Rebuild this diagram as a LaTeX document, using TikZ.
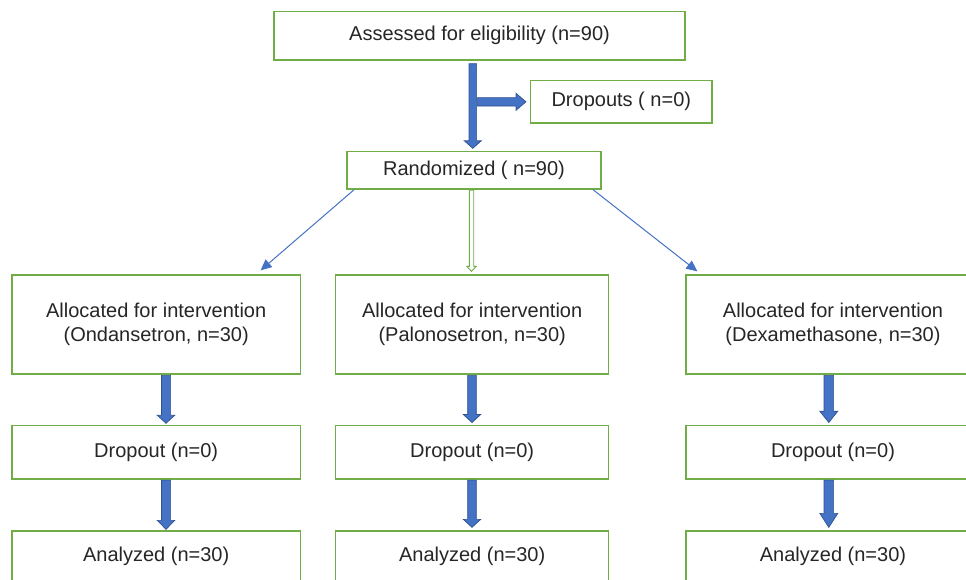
\documentclass[tikz,border=0pt]{standalone}
\usepackage{fontspec}
\setmainfont{Liberation Sans}
\usetikzlibrary{calc,arrows.meta}
\definecolor{boxgreen}{HTML}{70AD47}
\definecolor{arrblue}{HTML}{4472C4}
\definecolor{arredge}{HTML}{2F528F}
\definecolor{txt}{HTML}{262626}
\tikzset{
  box/.style={draw=boxgreen, line width=1.3pt, fill=white, inner sep=0pt,
    align=center, text=txt, font=\fontsize{20pt}{24pt}\selectfont},
  blockarrow/.style={fill=arrblue, draw=arredge, line width=0.7pt, line join=miter},
  hollowarrow/.style={fill=white, draw=boxgreen, line width=0.9pt, line join=miter},
  thinarrow/.style={draw=arrblue, line width=1pt, -{Triangle[length=11pt,width=10pt]}}
}
% #1 style, #2 start, #3 tip, #4 shaft half width, #5 head half width, #6 head length
\newcommand\blockarr[6][blockarrow]{%
  \coordinate (ba-h) at ($(#3)!#6!(#2)$);
  \filldraw[#1] ($(#2)!#4!90:(#3)$) -- ($(ba-h)!#4!90:(#3)$) -- ($(ba-h)!#5!90:(#3)$)
    -- (#3) -- ($(ba-h)!#5!-90:(#3)$) -- ($(ba-h)!#4!-90:(#3)$) -- ($(#2)!#4!-90:(#3)$) -- cycle;}
\begin{document}
\begin{tikzpicture}[x=1pt,y=-1pt]
\useasboundingbox (0,0) rectangle (966,579);
\clip (0,0) rectangle (966,579);

% nodes
\node[box, minimum width=411pt, minimum height=48.5pt] (assess) at (479.5,35.75) {Assessed for eligibility (n=90)};
\node[box, minimum width=181.3pt, minimum height=42.3pt] (drop0) at (621.3,101.8) {Dropouts ( n=0)};
\node[box, minimum width=254pt, minimum height=37.3pt] (rand) at (474,170.3) {Randomized ( n=90)};

\node[box, minimum width=288.5pt, minimum height=99pt] (alloc1) at (156.2,324.5) {Allocated for intervention\\(Ondansetron, n=30)};
\node[box, minimum width=273pt, minimum height=99pt] (alloc2) at (472.2,324.5) {Allocated for intervention\\(Palonosetron, n=30)};
\node[box, minimum width=294pt, minimum height=99pt] (alloc3) at (833,324.5) {Allocated for intervention\\(Dexamethasone, n=30)};

\node[box, minimum width=288.5pt, minimum height=53.3pt] (drop1) at (156.2,452.3) {Dropout (n=0)};
\node[box, minimum width=273pt, minimum height=53.3pt] (drop2) at (472.2,452.3) {Dropout (n=0)};
\node[box, minimum width=294pt, minimum height=53.3pt] (drop3) at (833,452.3) {Dropout (n=0)};

\node[box, minimum width=288.5pt, minimum height=51pt] (anal1) at (156.2,556.5) {Analyzed (n=30)};
\node[box, minimum width=273pt, minimum height=51pt] (anal2) at (472.2,556.5) {Analyzed (n=30)};
\node[box, minimum width=294pt, minimum height=51pt] (anal3) at (833,556.5) {Analyzed (n=30)};

% top block arrows
\coordinate (a0s) at ([xshift=-6.7pt,yshift=-3pt]assess.south);
\coordinate (a0t) at ([xshift=-1.2pt,yshift=2.7pt]rand.north);
\blockarr{a0s}{a0t}{3.8pt}{8.5pt}{7.5pt}
\coordinate (b0s) at ([xshift=-52.7pt]drop0.west);
\coordinate (b0t) at ([xshift=-4pt]drop0.west);
\blockarr{b0s}{b0t}{4.2pt}{8.5pt}{10pt}

% randomization arrows
\draw[thinarrow] ([xshift=7.5pt,yshift=-0.3pt]rand.south west) -- ([xshift=-40.5pt,yshift=4pt]alloc1.north east);
\draw[thinarrow] ([xshift=-8.7pt]rand.south east) -- ([xshift=12pt,yshift=3pt]alloc3.north west);
\coordinate (m0s) at ([xshift=-2.5pt,yshift=-0.5pt]rand.south);
\coordinate (m0t) at ([xshift=-0.7pt,yshift=3pt]alloc2.north);
\blockarr[hollowarrow]{m0s}{m0t}{2.2pt}{4.7pt}{5pt}

% column block arrows
\coordinate (c1s) at ([xshift=9.8pt,yshift=-0.7pt]alloc1.south);
\coordinate (c1t) at ([xshift=9.8pt,yshift=1.7pt]drop1.north);
\blockarr{c1s}{c1t}{4.6pt}{8.7pt}{8pt}
\coordinate (c2s) at ([xshift=-0.2pt,yshift=-0.7pt]alloc2.south);
\coordinate (c2t) at ([xshift=-0.2pt,yshift=2.5pt]drop2.north);
\blockarr{c2s}{c2t}{4.3pt}{8.7pt}{8pt}
\coordinate (c3s) at ([xshift=-4.2pt,yshift=-0.7pt]alloc3.south);
\coordinate (c3t) at ([xshift=-4.2pt,yshift=2.5pt]drop3.north);
\blockarr{c3s}{c3t}{4.8pt}{9pt}{11.3pt}

\coordinate (d1s) at ([xshift=9.8pt,yshift=-0.5pt]drop1.south);
\coordinate (d1t) at ([xshift=9.8pt,yshift=1pt]anal1.north);
\blockarr{d1s}{d1t}{4.6pt}{8.7pt}{9pt}
\coordinate (d2s) at ([xshift=-0.2pt,yshift=-0.5pt]drop2.south);
\coordinate (d2t) at ([xshift=-0.2pt,yshift=3pt]anal2.north);
\blockarr{d2s}{d2t}{4.3pt}{8.7pt}{8pt}
\coordinate (d3s) at ([xshift=-4.2pt,yshift=-0.5pt]drop3.south);
\coordinate (d3t) at ([xshift=-4.2pt,yshift=3pt]anal3.north);
\blockarr{d3s}{d3t}{4.8pt}{9pt}{14pt}
\end{tikzpicture}
\end{document}
